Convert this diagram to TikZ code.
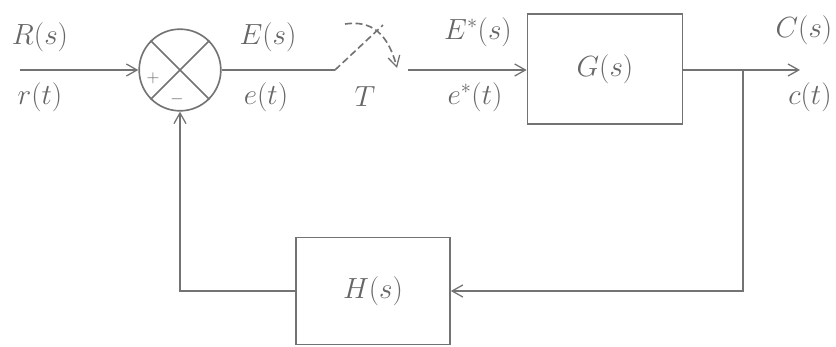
\documentclass[tikz,border=0pt]{standalone}
\usepackage{amsmath}
\usepackage{tikz}
\usetikzlibrary{arrows.meta, positioning, calc}

\begin{document}
\begin{tikzpicture}[x=0.03cm, y=-0.03cm, line width=1.4pt, draw=black!55, text=black!60,
    font=\fontsize{23}{27}\selectfont,
    >={Straight Barb[length=3.2mm, width=3.6mm, line width=1.1pt]}]
    \useasboundingbox (0,0) rectangle (836,347);

    % summing junction
    \node[circle, draw, minimum size=2.45cm] (sum) at (180,70) {};
    \draw (sum.45) -- (sum.225);
    \draw (sum.135) -- (sum.-45);
    \node (plus) at (153,78) {\Large $+$};
    \node (minus) at (177,99) {\Large $-$};

    % blocks
    \node[draw, minimum width=4.65cm, minimum height=3.3cm] (G) at (605,69) {$G(s)$};
    \node[draw, minimum width=4.62cm, minimum height=3.2cm] (H) at (373,291) {$H(s)$};

    % sampler
    \coordinate (in) at (20,70);
    \coordinate (swA) at (335,70);
    \coordinate (swB) at (383,25);
    \coordinate (swC) at (408,70);
    \draw[->] (in) -- (sum.west);
    \draw (sum.east) -- (swA);
    \draw[dashed, dash pattern=on 6pt off 3pt] (swA) -- (swB);
    \draw[dashed, dash pattern=on 6pt off 3pt, ->] (345,24) .. controls (372,20) and (388,34) .. (397,68);
    \draw[->] (swC) -- (G.west |- swC);

    % output and feedback
    \coordinate (out) at (800,70);
    \coordinate (branch) at (743,70);
    \draw[->] (G.east |- out) -- (out);
    \draw[->] (branch) -- (branch |- H.east) -- (H.east);
    \draw[->] (H.west) -| (sum.south);

    % signal labels
    \node (Rs) at (40,37) {$R(s)$};
    \node (rt) at (40,97) {$r(t)$};
    \node (Es) at (268,37) {$E(s)$};
    \node (et) at (266,97) {$e(t)$};
    \node (T) at (365,97) {$T$};
    \node (Ess) at (478,32) {$E^{*}(s)$};
    \node (est) at (475,97) {$e^{*}(t)$};
    \node (Cs) at (804,30) {$C(s)$};
    \node (ct) at (810,97) {$c(t)$};
\end{tikzpicture}
\end{document}
